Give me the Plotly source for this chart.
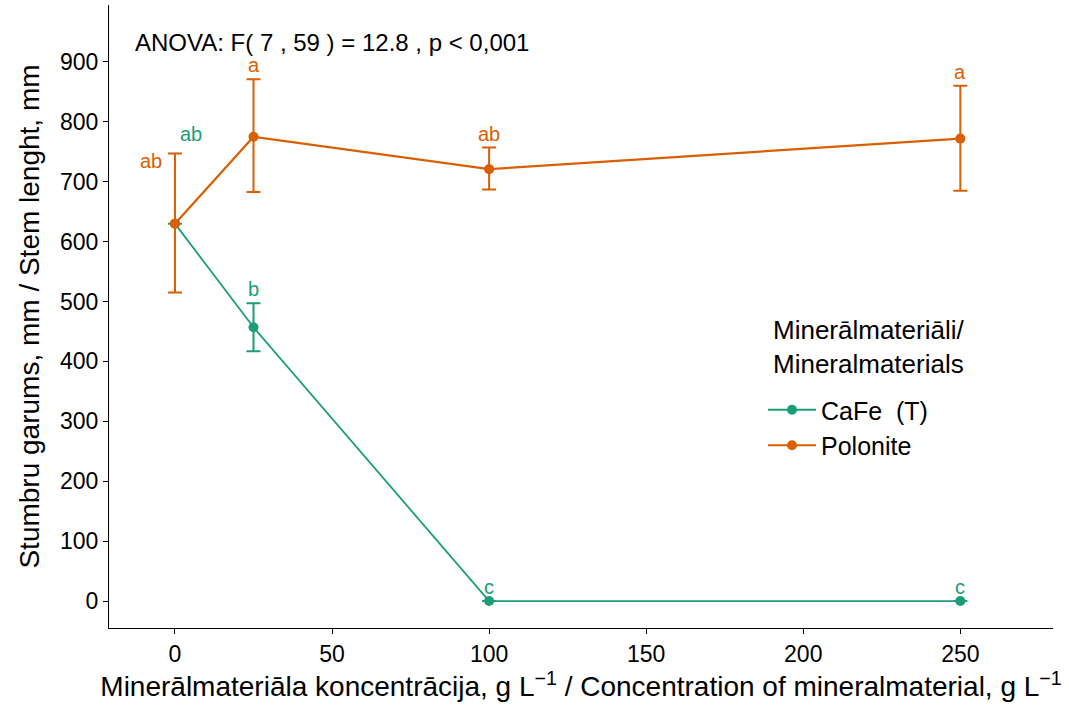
import plotly.graph_objects as go

conc = [0, 25, 100, 250]

cafe_mean = [630, 457, 0, 0]
cafe_low = [630, 417, 0, 0]
cafe_high = [630, 497, 0, 0]
cafe_letters = ["ab", "b", "c", "c"]

pol_mean = [630, 775, 721, 772]
pol_low = [515, 683, 687, 685]
pol_high = [747, 871, 757, 860]
pol_letters = ["ab", "a", "ab", "a"]

x_ticks = [0, 50, 100, 150, 200, 250]
y_ticks = [0, 100, 200, 300, 400, 500, 600, 700, 800, 900]

GREEN = "#1B9E77"
ORANGE = "#D95F02"
FONT = "Liberation Sans, Arial, sans-serif"

fig = go.Figure()

def add_series(name, mean, low, high, color, lw):
    fig.add_trace(go.Scatter(
        x=conc, y=mean, name=name, mode="lines+markers",
        line=dict(color=color, width=lw),
        marker=dict(color=color, size=10),
        error_y=dict(type="data", symmetric=False,
                     array=[h - m for h, m in zip(high, mean)],
                     arrayminus=[m - l for m, l in zip(mean, low)],
                     color=color, thickness=2, width=7),
    ))

add_series("CaFe  (T)", cafe_mean, cafe_low, cafe_high, GREEN, 1.8)
add_series("Polonite", pol_mean, pol_low, pol_high, ORANGE, 2.2)

annotations = []
def add_letters(letters, high, color, zero_shift):
    for i, (xv, hv, t) in enumerate(zip(conc, high, letters)):
        xs, ys = 0, 14
        if i == 0:
            xs, ys = zero_shift
        annotations.append(dict(x=xv, y=hv, text=t, showarrow=False,
                                xshift=xs, yshift=ys, borderpad=0,
                                font=dict(color=color, size=20, family=FONT)))

add_letters(cafe_letters, [pol_high[0]] + cafe_high[1:], GREEN, (16, 20))
add_letters(pol_letters, pol_high, ORANGE, (-24, -7))

L, R, T, B = 109, 16, 5, 81
W, H = 1069, 709
pw, ph = W - L - R, H - T - B

def px(xp):
    return (xp - L) / pw

def py(yp):
    return (H - B - yp) / ph

annotations.append(dict(x=px(134), y=py(42), xref="paper", yref="paper",
                        text="ANOVA: F( 7 , 59 ) = 12.8 , p < 0,001",
                        showarrow=False, xanchor="left", yanchor="middle", borderpad=0,
                        font=dict(color="black", size=24, family=FONT)))

annotations.append(dict(x=px(771), y=py(347), xref="paper", yref="paper",
                        text="Minerālmateriāli/<br>Mineralmaterials", align="left",
                        showarrow=False, xanchor="left", yanchor="middle",
                        font=dict(color="black", size=26, family=FONT)))

fig.update_layout(
    width=W, height=H,
    margin=dict(l=L, r=R, t=T, b=B),
    paper_bgcolor="white", plot_bgcolor="white",
    font=dict(family=FONT, color="black"),
    annotations=annotations,
    legend=dict(
        x=px(763), y=py(387), xanchor="left", yanchor="top",
        font=dict(size=25, color="black"),
        bgcolor="rgba(0,0,0,0)",
        tracegroupgap=0, itemwidth=48,
    ),
    xaxis=dict(
        range=[-21, 279.5], tickvals=x_ticks, ticktext=[str(v) for v in x_ticks],
        showgrid=False, zeroline=False, showline=True, linecolor="black", linewidth=1,
        ticks="outside", ticklen=5, tickcolor="black", automargin=False,
        tickfont=dict(size=23, color="black"),
        title=dict(text="Minerālmateriāla koncentrācija, g L<sup>−1</sup> / Concentration of mineralmaterial, g L<sup>−1</sup>",
                   font=dict(size=28, color="black"), standoff=10),
    ),
    yaxis=dict(
        range=[-45, 995], tickvals=y_ticks, ticktext=[str(v) for v in y_ticks],
        showgrid=False, zeroline=False, showline=True, linecolor="black", linewidth=1,
        ticks="outside", ticklen=5, tickcolor="black", automargin=False,
        tickfont=dict(size=23, color="black"),
        title=dict(text="Stumbru garums, mm / Stem lenght, mm",
                   font=dict(size=28, color="black"), standoff=12),
    ),
)

fig.write_html("out.html")
